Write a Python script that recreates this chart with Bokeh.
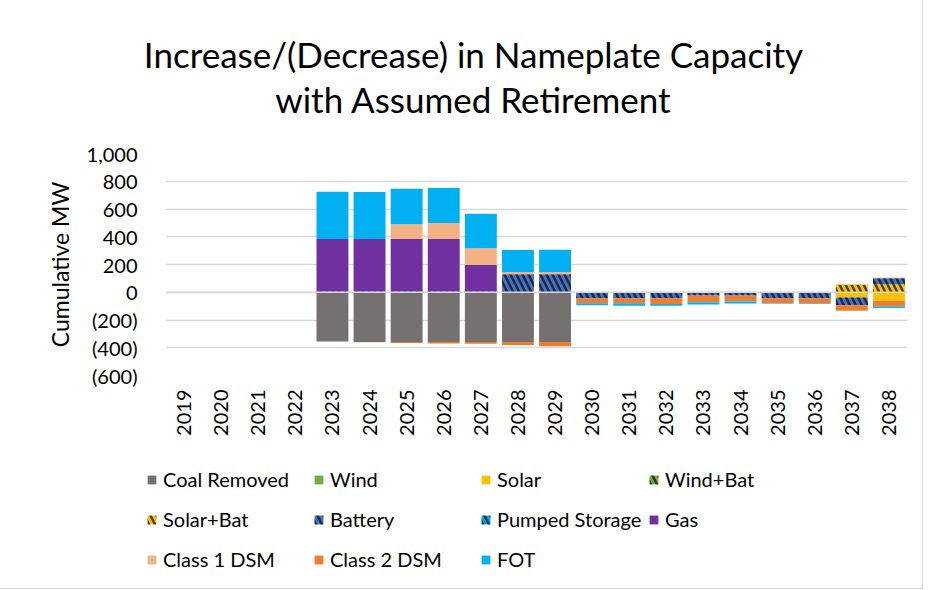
import math
from bokeh.plotting import figure
from bokeh.layouts import column
from bokeh.models import (FactorRange, Range1d, FixedTicker, CustomJSTickFormatter,
                          Legend, LegendItem, Span, ColumnDataSource)
from bokeh.core.properties import value
from bokeh.embed import file_html
from bokeh.resources import INLINE

# ---------------- data (MW) ----------------
title_lines = ["Increase/(Decrease) in Nameplate Capacity", "with Assumed Retirement"]
y_axis_title = "Cumulative MW"

years = ["2019", "2020", "2021", "2022", "2023", "2024", "2025", "2026", "2027", "2028",
         "2029", "2030", "2031", "2032", "2033", "2034", "2035", "2036", "2037", "2038"]

coal_removed   = [0, 0, 0, 0, -355, -358, -358, -358, -358, -358, -358, 0, 0, 0, 0, 0, 0, 0, 0, 0]
wind           = [0, 0, 0, 0, 0, 0, 0, 0, 0, 0, 0, 0, 0, 0, 0, 0, 0, 0, 0, 0]
solar          = [0, 0, 0, 0, 0, 0, 0, 0, 0, 0, 0, 0, 0, 0, 0, 0, 0, 0, -38, -62]
wind_bat       = [0, 0, 0, 0, 0, 0, 0, 0, 0, 0, 0, 0, 0, 0, 0, 0, 0, 0, 0, 0]
solar_bat      = [0, 0, 0, 0, 0, 0, 0, 0, 0, 0, 0, 0, 0, 0, 0, 0, 0, 0, 53, 58]
battery        = [0, 0, 0, 0, 8, 8, 8, 8, 8, 130, 130, -43, -43, -43, -24, -24, -43, -43, -55, 43]
pumped_storage = [0, 0, 0, 0, 0, 0, 0, 0, 0, 0, 0, 0, 0, 0, 0, 0, 0, 0, 0, 0]
gas            = [0, 0, 0, 0, 376, 376, 376, 376, 189, 0, 0, 0, 0, 0, 0, 0, 0, 0, 0, 0]
class1_dsm     = [0, 0, 0, 0, 0, 0, 106, 115, 120, 16, 16, 3, 3, 3, 3, 3, 3, 3, 5, 5]
class2_dsm     = [0, 0, 0, 0, 0, -3, -7, -12, -14, -22, -31, -36, -36, -41, -48, -43, -36, -38, -41, -41]
fot            = [0, 0, 0, -3, 341, 338, 256, 252, 249, 159, 161, -14, -19, -14, -17, -14, -3, -3, 0, -10]

series_names = ["Coal Removed", "Wind", "Solar", "Wind+Bat", "Solar+Bat", "Battery",
                "Pumped Storage", "Gas", "Class 1 DSM", "Class 2 DSM", "FOT"]
series_values = [coal_removed, wind, solar, wind_bat, solar_bat, battery,
                 pumped_storage, gas, class1_dsm, class2_dsm, fot]

y_ticks = [-600, -400, -200, 0, 200, 400, 600, 800, 1000]

# ---------------- styles ----------------
HATCH = dict(hatch_pattern="left_diagonal_line", hatch_color="#111111",
             hatch_alpha=0.75, hatch_scale=12, hatch_weight=2.5)
styles = {
    "Coal Removed":   dict(fill_color="#767171"),
    "Wind":           dict(fill_color="#70AD47"),
    "Solar":          dict(fill_color="#FFC000"),
    "Wind+Bat":       dict(fill_color="#70AD47", **HATCH),
    "Solar+Bat":      dict(fill_color="#FFC000", **HATCH),
    "Battery":        dict(fill_color="#4472C4", **HATCH),
    "Pumped Storage": dict(fill_color="#00A2E8", **HATCH),
    "Gas":            dict(fill_color="#7030A0"),
    "Class 1 DSM":    dict(fill_color="#F4B183"),
    "Class 2 DSM":    dict(fill_color="#ED7D31"),
    "FOT":            dict(fill_color="#00B0F0"),
}
FONT = "Lato"
TXT = "#000000"
W = 922


def bare(fig):
    fig.outline_line_color = None
    fig.grid.visible = False
    fig.background_fill_color = "white"
    fig.border_fill_color = "white"
    fig.min_border = 0
    fig.min_border_left = 0
    fig.min_border_right = 0
    fig.min_border_top = 0
    fig.min_border_bottom = 0


# ---------------- title figure ----------------
TH = 125
tf = figure(width=W, height=TH, x_range=Range1d(0, W), y_range=Range1d(TH, 0),
            x_axis_type=None, y_axis_type=None, output_backend="svg",
            toolbar_location=None, frame_align=False)
bare(tf)
tf.text(x=[473, 473], y=[53, 98], text=title_lines, text_align="center",
        text_baseline="middle", text_font=value(FONT), text_font_size="35px",
        text_color=TXT)

# ---------------- main chart ----------------
p = figure(width=W, height=330, x_range=FactorRange(*years, range_padding=0),
           y_range=Range1d(-600, 1000), output_backend="svg", toolbar_location=None,
           min_border_left=165, min_border_right=15, min_border_top=28,
           min_border_bottom=80, frame_align=False)
p.outline_line_color = None
p.background_fill_color = "white"
p.border_fill_color = "white"

pos = [0.0] * len(years)
neg = [0.0] * len(years)
for name, vals in zip(series_names, series_values):
    tops, bottoms = [], []
    for i, v in enumerate(vals):
        if v >= 0:
            bottoms.append(pos[i]); tops.append(pos[i] + v); pos[i] += v
        else:
            tops.append(neg[i]); bottoms.append(neg[i] + v); neg[i] += v
    src = ColumnDataSource(dict(x=years, top=tops, bottom=bottoms))
    p.vbar(x="x", top="top", bottom="bottom", width=0.86, source=src,
           line_color=None, **styles[name])

p.add_layout(Span(location=0, dimension="width", line_color="#D9D9D9", line_width=1.5))

p.xgrid.grid_line_color = None
p.ygrid.grid_line_color = "#D9D9D9"
p.ygrid.grid_line_width = 1.5
p.yaxis.ticker = FixedTicker(ticks=y_ticks)
p.yaxis.formatter = CustomJSTickFormatter(code="""
    const v = Math.abs(tick).toLocaleString('en-US');
    return tick < 0 ? '(' + v + ')' : v;
""")
for ax in (p.xaxis, p.yaxis):
    ax.axis_line_color = None
    ax.major_tick_line_color = None
    ax.minor_tick_line_color = None
    ax.major_tick_out = 0
    ax.major_tick_in = 0
    ax.minor_tick_out = 0
    ax.minor_tick_in = 0
    ax.major_label_text_font = FONT
    ax.major_label_text_font_size = "20px"
    ax.major_label_text_color = TXT
p.yaxis.major_label_standoff = 28
p.yaxis.axis_label = y_axis_title
p.yaxis.axis_label_text_font = FONT
p.yaxis.axis_label_text_font_size = "23px"
p.yaxis.axis_label_text_font_style = "normal"
p.yaxis.axis_label_text_color = TXT
p.yaxis.axis_label_standoff = 10
p.xaxis.major_label_orientation = math.pi / 2
p.xaxis.major_label_standoff = 14

# ---------------- legend figure ----------------
LH = 133
lf = figure(width=W, height=LH, x_range=Range1d(0, W), y_range=Range1d(0, LH),
            x_axis_type=None, y_axis_type=None, output_backend="svg",
            toolbar_location=None, frame_align=False)
bare(lf)
leg_renderers = {}
for name in series_names:
    # off-screen sample glyph, only used to draw the legend swatch
    leg_renderers[name] = lf.vbar(x=[-100], top=[-100], bottom=[-110], width=1,
                                  line_color=None, **styles[name])

legend_cols = [
    (["Coal Removed", "Solar+Bat", "Class 1 DSM"], 146, 17),
    (["Wind", "Battery", "Class 2 DSM"], 313, 17),
    (["Solar", "Pumped Storage", "FOT"], 480, 17),
    (["Wind+Bat", "Gas"], 648, 57),
]
for names, lx, ly in legend_cols:
    leg = Legend(items=[LegendItem(label=n, renderers=[leg_renderers[n]]) for n in names],
                 location=(lx, ly), orientation="vertical",
                 glyph_width=11, glyph_height=11, label_height=20, spacing=16,
                 label_standoff=6, padding=0, margin=0,
                 border_line_color=None, background_fill_alpha=0,
                 label_text_font=FONT, label_text_font_size="20px",
                 label_text_color=TXT)
    lf.add_layout(leg)

layout = column(tf, p, lf, spacing=0,
                styles={"border-right": "1px solid #D9D9D9",
                        "border-bottom": "1px solid #D9D9D9"})
open("out.html", "w").write(file_html(layout, INLINE))
